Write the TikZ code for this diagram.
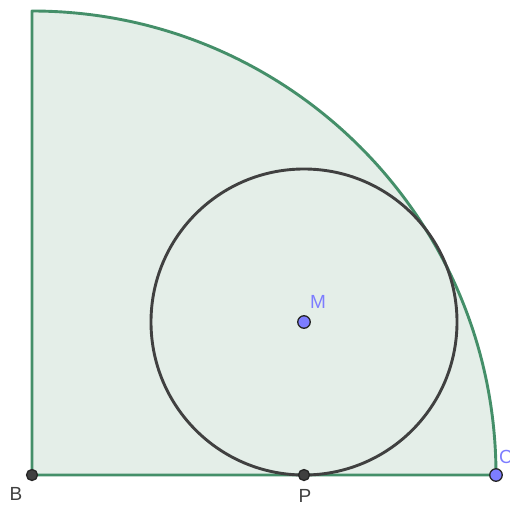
\documentclass[tikz,border=0pt]{standalone}
\usepackage{fontspec}
\setmainfont{Liberation Sans}
\begin{document}
\begin{tikzpicture}[x=1pt,y=1pt,
  ptblue/.style={circle,draw=black!85,fill={rgb,255:red,125;green,125;blue,255},line width=1.3pt,inner sep=0pt,minimum size=12.5pt},
  ptgray/.style={circle,draw=black!85,fill={rgb,255:red,64;green,64;blue,64},line width=1.3pt,inner sep=0pt,minimum size=11pt},
  lblgray/.style={text={rgb,255:red,64;green,64;blue,64},font=\fontsize{19}{19}\selectfont,inner sep=0pt},
  lblblue/.style={text={rgb,255:red,125;green,125;blue,255},font=\fontsize{19}{19}\selectfont,inner sep=0pt}]
\useasboundingbox (0,0) rectangle (510,507);
\definecolor{sectfill}{RGB}{228,238,232}
\definecolor{sectline}{RGB}{68,143,105}
\definecolor{circline}{RGB}{64,64,64}
\coordinate (B) at (32,32);
\filldraw[fill=sectfill,draw=sectline,line width=2.9pt,line join=round]
  (B) -- (496,32) arc[start angle=0,end angle=90,radius=464] -- cycle;
\draw[circline,line width=2.9pt] (304,185) circle[radius=153];
\node[ptgray] (Bp) at (B) {};
\node[ptgray] (P) at (304,32) {};
\node[ptblue] (M) at (304,185) {};
\node[ptblue] (C) at (496,32) {};
\node[lblgray] (Bl) at (16,13) {B};
\node[lblgray] (Pl) at (305,11) {P};
\node[lblblue] (Ml) at (318,205) {M};
\node[lblblue,anchor=west] (Cl) at (499,50) {C};
\end{tikzpicture}
\end{document}
